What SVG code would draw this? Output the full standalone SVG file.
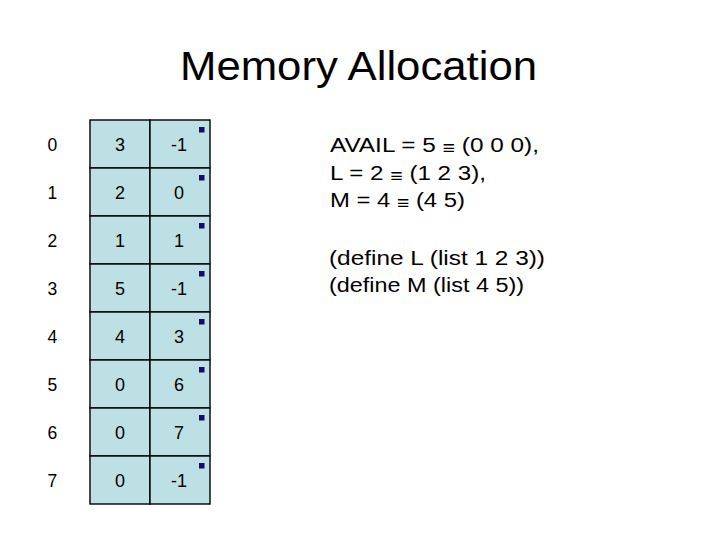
<svg xmlns="http://www.w3.org/2000/svg" width="720" height="540" viewBox="0 0 720 540">
<style>
  text { font-family: "Liberation Sans", Arial, sans-serif; fill: #000; }
  .title { font-size: 40px; }
  .idx { font-size: 17.5px; }
  .val { font-size: 18px; text-anchor: middle; }
  .note { font-size: 20.5px; }
  .eq { font-size: 18px; }
  .cell { fill: #bde0e4; stroke: #000; stroke-width: 1.4; }
  .mark { fill: #10105e; }
</style>
<rect width="720" height="540" fill="#ffffff"/>
<text class="title" x="180" y="80" textLength="357" lengthAdjust="spacingAndGlyphs">Memory Allocation</text>

<g id="row-0">
  <text class="idx" x="47.5" y="150.5">0</text>
  <rect class="cell" x="90" y="120" width="60" height="48"/>
  <rect class="cell" x="150" y="120" width="60" height="48"/>
  <text class="val" x="120" y="150.5">3</text>
  <text class="val" x="179" y="150.5">-1</text>
  <rect class="mark" x="199" y="127" width="5.5" height="5.5"/>
</g>
<g id="row-1">
  <text class="idx" x="47.5" y="198.5">1</text>
  <rect class="cell" x="90" y="168" width="60" height="48"/>
  <rect class="cell" x="150" y="168" width="60" height="48"/>
  <text class="val" x="120" y="198.5">2</text>
  <text class="val" x="179" y="198.5">0</text>
  <rect class="mark" x="199" y="175" width="5.5" height="5.5"/>
</g>
<g id="row-2">
  <text class="idx" x="47.5" y="246.5">2</text>
  <rect class="cell" x="90" y="216" width="60" height="48"/>
  <rect class="cell" x="150" y="216" width="60" height="48"/>
  <text class="val" x="120" y="246.5">1</text>
  <text class="val" x="179" y="246.5">1</text>
  <rect class="mark" x="199" y="223" width="5.5" height="5.5"/>
</g>
<g id="row-3">
  <text class="idx" x="47.5" y="294.5">3</text>
  <rect class="cell" x="90" y="264" width="60" height="48"/>
  <rect class="cell" x="150" y="264" width="60" height="48"/>
  <text class="val" x="120" y="294.5">5</text>
  <text class="val" x="179" y="294.5">-1</text>
  <rect class="mark" x="199" y="271" width="5.5" height="5.5"/>
</g>
<g id="row-4">
  <text class="idx" x="47.5" y="342.5">4</text>
  <rect class="cell" x="90" y="312" width="60" height="48"/>
  <rect class="cell" x="150" y="312" width="60" height="48"/>
  <text class="val" x="120" y="342.5">4</text>
  <text class="val" x="179" y="342.5">3</text>
  <rect class="mark" x="199" y="319" width="5.5" height="5.5"/>
</g>
<g id="row-5">
  <text class="idx" x="47.5" y="390.5">5</text>
  <rect class="cell" x="90" y="360" width="60" height="48"/>
  <rect class="cell" x="150" y="360" width="60" height="48"/>
  <text class="val" x="120" y="390.5">0</text>
  <text class="val" x="179" y="390.5">6</text>
  <rect class="mark" x="199" y="367" width="5.5" height="5.5"/>
</g>
<g id="row-6">
  <text class="idx" x="47.5" y="438.5">6</text>
  <rect class="cell" x="90" y="408" width="60" height="48"/>
  <rect class="cell" x="150" y="408" width="60" height="48"/>
  <text class="val" x="120" y="438.5">0</text>
  <text class="val" x="179" y="438.5">7</text>
  <rect class="mark" x="199" y="415" width="5.5" height="5.5"/>
</g>
<g id="row-7">
  <text class="idx" x="47.5" y="486.5">7</text>
  <rect class="cell" x="90" y="456" width="60" height="48"/>
  <rect class="cell" x="150" y="456" width="60" height="48"/>
  <text class="val" x="120" y="486.5">0</text>
  <text class="val" x="179" y="486.5">-1</text>
  <rect class="mark" x="199" y="463" width="5.5" height="5.5"/>
</g>

<g id="notes">
  <text class="note" x="330" y="152" textLength="209" lengthAdjust="spacingAndGlyphs">AVAIL = 5 <tspan class="eq" dy="2">≡</tspan><tspan dy="-2"> (0 0 0),</tspan></text>
  <text class="note" x="330" y="180" textLength="156" lengthAdjust="spacingAndGlyphs">L = 2 <tspan class="eq" dy="2">≡</tspan><tspan dy="-2"> (1 2 3),</tspan></text>
  <text class="note" x="330" y="207" textLength="135" lengthAdjust="spacingAndGlyphs">M = 4 <tspan class="eq" dy="2">≡</tspan><tspan dy="-2"> (4 5)</tspan></text>
  <text class="note" x="329" y="265" textLength="216" lengthAdjust="spacingAndGlyphs">(define L (list 1 2 3))</text>
  <text class="note" x="329" y="292" textLength="195" lengthAdjust="spacingAndGlyphs">(define M (list 4 5))</text>
</g>
</svg>
